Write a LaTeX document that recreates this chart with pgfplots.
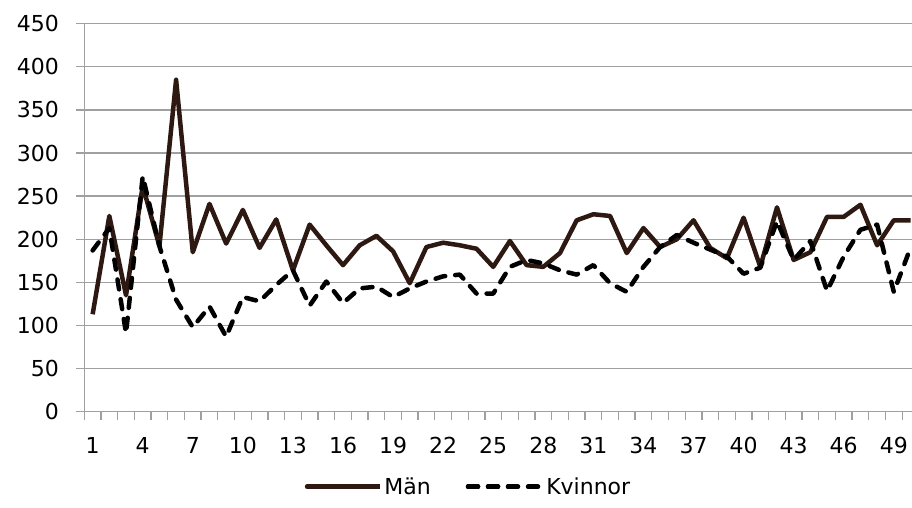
\documentclass[border=0pt]{standalone}
\usepackage{pgfplots}
\pgfplotsset{compat=1.18}
\usepackage{fontspec}
\setmainfont{DejaVu Sans}
\definecolor{man}{RGB}{45,25,17}
\definecolor{gridgray}{RGB}{160,160,160}
\pgfplotsset{
  manlegend/.style={legend image code/.code={\draw[##1, line cap=round] (0pt,0pt) -- (66pt,0pt); \path (0pt,0pt) -- (73pt,0pt);}},
  kvlegend/.style={legend image code/.code={\draw[##1, line cap=round] (0pt,0pt) -- (48pt,0pt); \path (0pt,0pt) -- (74pt,0pt);}},
}
\begin{document}
\begin{tikzpicture}
\begin{axis}[
  scale only axis,
  width=827.7pt, height=388pt,
  at={(84.3pt,95.3pt)}, anchor=south west,
  xmin=0.5, xmax=50.09,
  ymin=0, ymax=450,
  axis lines*=left,
  axis line style={gridgray, line width=1.3pt},
  xtick={0.5,1.5,...,50.5},
  xticklabels={},
  extra x ticks={1,4,...,49},
  extra x tick labels={1,4,7,10,13,16,19,22,25,28,31,34,37,40,43,46,49},
  extra x tick style={major tick length=0pt},
  xticklabel style={yshift=-22pt},
  ytick={0,50,...,450},
  tick align=outside,
  major tick length=8pt,
  x tick style={gridgray, line width=1.3pt},
  y tick style={draw=gridgray, line width=1.3pt},
  ymajorgrids,
  major grid style={gridgray, line width=1.3pt},
  /pgf/number format/assume math mode=true,
  tick label style={font=\fontsize{22}{26}\selectfont, black},
  yticklabel style={xshift=-14pt},
  legend style={at={(0.4642,-0.1933)}, anchor=center, draw=none, fill=none,
    legend columns=2, font=\fontsize{22}{26}\selectfont,
    /tikz/every even column/.append style={column sep=33pt}},
  clip=true,
]
\addplot[man, line width=4.5pt, line join=round, manlegend]
  coordinates {
(1,113) (2,227) (3,135) (4,262) (5,192) (6,385) (7,185) (8,241) (9,195) (10,234)
(11,190) (12,223) (13,164) (14,217) (15,193) (16,170) (17,193) (18,204) (19,186) (20,149)
(21,191) (22,196) (23,193) (24,189) (25,168) (26,198) (27,170) (28,168) (29,184) (30,222)
(31,229) (32,227) (33,184) (34,213) (35,191) (36,200) (37,222) (38,190) (39,178) (40,225)
(41,168) (42,237) (43,176) (44,185) (45,226) (46,226) (47,240) (48,193) (49,222) (50,222)
};
\addlegendentry{Män}
\addplot[black, line width=4.5pt, line join=round, line cap=round, dash pattern=on 10pt off 10pt, kvlegend]
  coordinates {
(1,187) (2,213) (3,91) (4,273) (5,192) (6,130) (7,98) (8,122) (9,87) (10,133)
(11,128) (12,147) (13,164) (14,123) (15,151) (16,126) (17,143) (18,145) (19,133) (20,143)
(21,151) (22,157) (23,159) (24,137) (25,137) (26,168) (27,176) (28,172) (29,164) (30,159)
(31,170) (32,149) (33,139) (34,168) (35,191) (36,205) (37,196) (38,188) (39,180) (40,160)
(41,167) (42,221) (43,176) (44,198) (45,140) (46,180) (47,211) (48,217) (49,139) (50,190)
};
\addlegendentry{Kvinnor}
\end{axis}
\pgfresetboundingbox
\path[use as bounding box] (0,0) rectangle (912pt,507pt);
\end{tikzpicture}
\end{document}
